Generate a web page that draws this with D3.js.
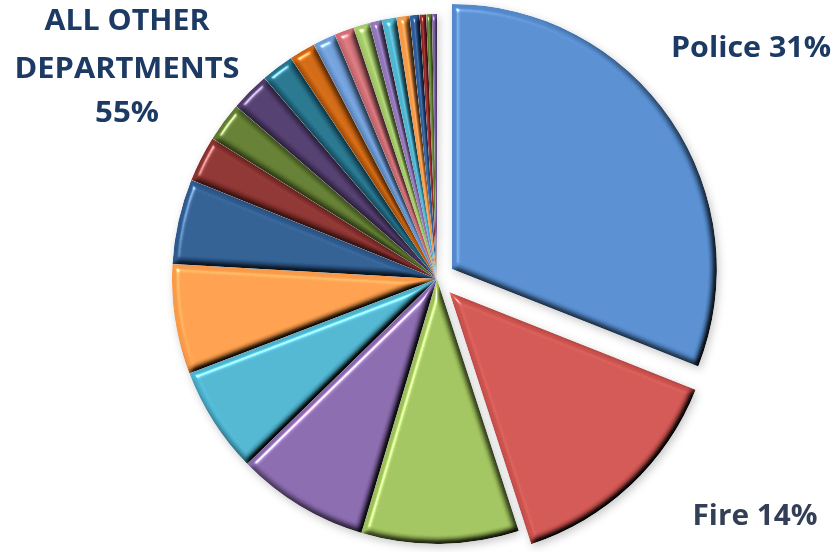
<!DOCTYPE html>
<html>
<head>
<meta charset="utf-8">
<script src="https://cdn.jsdelivr.net/npm/d3@7"></script>
<style>
  html, body { margin: 0; padding: 0; background: #ffffff; }
  svg { display: block; }
  text { font-family: "Open Sans", "Noto Sans", sans-serif; font-weight: 700; }
</style>
</head>
<body>
<svg id="chart" width="838" height="552"></svg>
<script>
// Share of spending by department (percent), clockwise from 12 o'clock
const namedDepartments = ["Police", "Fire"];
const namedShares = [31, 14];
const otherShares = [9.6, 8.1, 6.5, 6.7, 5.2, 2.8, 2.4, 2.4, 2.0, 1.6,
                     1.4, 1.2, 1.0, 0.75, 0.9, 0.8, 0.6, 0.4, 0.35, 0.3];
const otherTotal = 55;

const sliceColors = [
  "#5389cb", "#cc524e",
  "#9dbf5a", "#8566a9", "#4cb1cc", "#f99a48", "#2d5a8e", "#88302d",
  "#5f7a2f", "#4e3a6a", "#23718a", "#cc6410", "#6d9bd6", "#cf6f75",
  "#a6cb6a", "#9277bb", "#50b5cf", "#f49a48", "#2f5d99", "#8c2424",
  "#5b7a2c", "#6b4f8e"
];

const shares = namedShares.concat(otherShares);
const svg = d3.select("#chart");

const cx = 437, cy = 279, radius = 265, explode = 18;

// Bevel: blurred alpha as a height map, lit from the upper left
const defs = svg.append("defs");
const bevel = defs.append("filter").attr("id", "bevel")
  .attr("color-interpolation-filters", "sRGB")
  .attr("x", "-10%").attr("y", "-10%").attr("width", "120%").attr("height", "120%");
bevel.append("feGaussianBlur").attr("in", "SourceAlpha").attr("stdDeviation", 3.2).attr("result", "b");
bevel.append("feDiffuseLighting").attr("in", "b").attr("surfaceScale", 5)
  .attr("diffuseConstant", 1.3).attr("lighting-color", "#ffffff").attr("result", "d")
  .append("feDistantLight").attr("azimuth", 225).attr("elevation", 50);
bevel.append("feComposite").attr("in", "SourceGraphic").attr("in2", "d")
  .attr("operator", "arithmetic").attr("k1", 1).attr("k2", 0).attr("k3", 0).attr("k4", 0)
  .attr("result", "shaded");
bevel.append("feSpecularLighting").attr("in", "b").attr("surfaceScale", 5)
  .attr("specularConstant", 0.6).attr("specularExponent", 45).attr("lighting-color", "#ffffff")
  .attr("result", "s")
  .append("feDistantLight").attr("azimuth", 225).attr("elevation", 50);
bevel.append("feComposite").attr("in", "s").attr("in2", "SourceAlpha").attr("operator", "in").attr("result", "s2");
bevel.append("feComposite").attr("in", "shaded").attr("in2", "s2")
  .attr("operator", "arithmetic").attr("k1", 0).attr("k2", 1).attr("k3", 1).attr("k4", 0)
  .attr("result", "lit");
bevel.append("feComposite").attr("in", "lit").attr("in2", "SourceAlpha").attr("operator", "in");

const shadow = defs.append("filter").attr("id", "shadow")
  .attr("color-interpolation-filters", "sRGB")
  .attr("x", "-10%").attr("y", "-10%").attr("width", "120%").attr("height", "120%");
shadow.append("feDropShadow").attr("dx", 2).attr("dy", 3).attr("stdDeviation", 4)
  .attr("flood-color", "#000").attr("flood-opacity", 0.22);

const pie = d3.pie().sort(null).value(d => d).startAngle(0).endAngle(2 * Math.PI);
const arc = d3.arc().innerRadius(0).outerRadius(radius);
const arcs = pie(shares);

const g = svg.append("g").attr("transform", `translate(${cx},${cy})`)
  .attr("filter", "url(#shadow)");

g.selectAll("path.slice")
  .data(arcs)
  .join("path")
  .attr("class", "slice")
  .attr("d", arc)
  .attr("fill", (d, i) => sliceColors[i % sliceColors.length])
  .attr("filter", "url(#bevel)")
  .attr("transform", (d, i) => {
    if (i >= namedShares.length) return null;
    const a = (d.startAngle + d.endAngle) / 2;
    return `translate(${explode * Math.sin(a)},${-explode * Math.cos(a)})`;
  });

// Labels
const navy = "#1c3a63";
svg.append("text").attr("x", 751).attr("y", 57).attr("text-anchor", "middle")
  .attr("fill", navy).attr("font-size", 29)
  .attr("textLength", 160).attr("lengthAdjust", "spacingAndGlyphs")
  .text(`${namedDepartments[0]} ${namedShares[0]}%`);

svg.append("text").attr("x", 755).attr("y", 525).attr("text-anchor", "middle")
  .attr("fill", "#333f56").attr("font-size", 28)
  .attr("textLength", 125).attr("lengthAdjust", "spacingAndGlyphs")
  .text(`${namedDepartments[1]} ${namedShares[1]}%`);

const otherLines = ["ALL OTHER", "DEPARTMENTS", `${otherTotal}%`];
const otherWidths = [165, 225, 64];
const otherBase = [30, 78, 122];
otherLines.forEach((t, i) => {
  svg.append("text").attr("x", 127).attr("y", otherBase[i]).attr("text-anchor", "middle")
    .attr("fill", navy).attr("font-size", 29)
    .attr("textLength", otherWidths[i]).attr("lengthAdjust", "spacingAndGlyphs")
    .text(t);
});
</script>
</body>
</html>
